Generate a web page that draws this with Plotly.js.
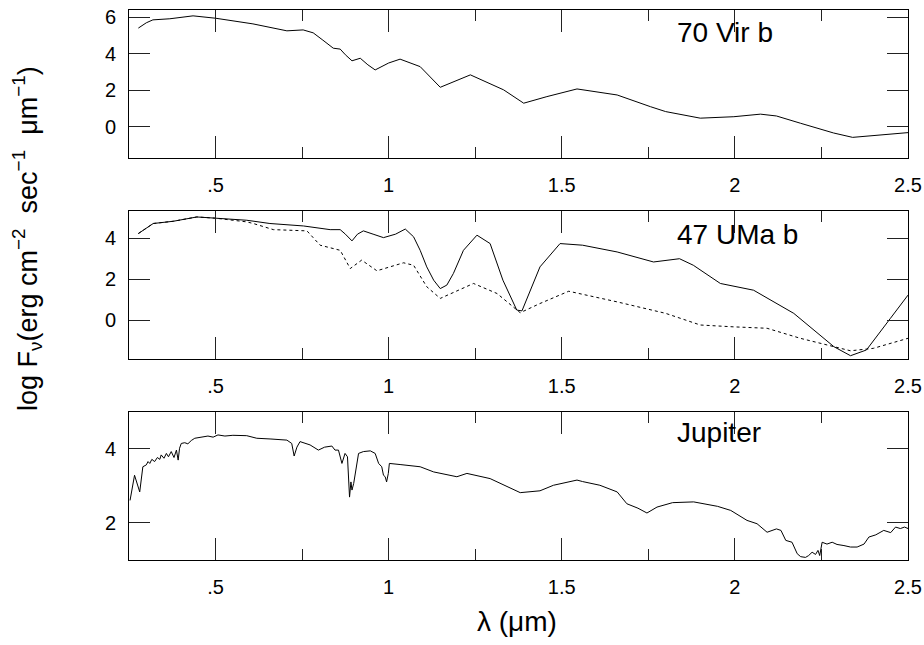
<!DOCTYPE html>
<html>
<head>
<meta charset="utf-8">
<script src="https://cdn.plot.ly/plotly-3.0.1.min.js"></script>
<style>html,body{margin:0;padding:0;background:#fff;}</style>
</head>
<body>
<div id="chart" style="width:924px;height:645px;"></div>
<script>
// ---- data (wavelength in micron, log flux) ----
const virLam = [0.277,0.30,0.319,0.368,0.435,0.5,0.608,0.706,0.753,0.782,0.81,0.84,0.86,0.875,0.894,0.918,0.94,0.961,1.0,1.033,1.091,1.149,1.236,1.332,1.39,1.457,1.544,1.66,1.756,1.80,1.90,1.997,2.074,2.12,2.19,2.285,2.34,2.43,2.5];
const virFlux = [5.41,5.7,5.86,5.92,6.08,5.95,5.64,5.26,5.31,5.15,4.75,4.31,4.26,3.95,3.62,3.76,3.4,3.12,3.5,3.71,3.3,2.17,2.85,2.03,1.30,1.66,2.08,1.75,1.11,0.84,0.48,0.56,0.70,0.60,0.2,-0.33,-0.57,-0.44,-0.31];

const umaLam = [0.277,0.32,0.378,0.446,0.5,0.59,0.657,0.754,0.831,0.86,0.875,0.894,0.91,0.927,0.955,0.985,1.02,1.048,1.072,1.091,1.11,1.13,1.149,1.168,1.187,1.216,1.255,1.293,1.33,1.37,1.385,1.437,1.495,1.56,1.66,1.765,1.84,1.88,1.958,2.054,2.17,2.286,2.334,2.38,2.449,2.5];
const umaFlux = [4.23,4.72,4.83,5.04,4.98,4.88,4.72,4.60,4.42,4.42,4.2,3.87,4.2,4.36,4.2,4.03,4.2,4.45,4.07,3.41,2.6,1.95,1.54,1.71,2.28,3.41,4.15,3.74,1.95,0.49,0.45,2.6,3.74,3.66,3.33,2.84,3.0,2.68,1.79,1.46,0.33,-1.30,-1.74,-1.46,0.08,1.22];

const umaDotLam = [0.277,0.32,0.378,0.446,0.5,0.59,0.609,0.667,0.764,0.802,0.86,0.889,0.922,0.966,1.043,1.072,1.11,1.149,1.245,1.313,1.38,1.437,1.52,1.66,1.80,1.90,1.996,2.093,2.189,2.285,2.334,2.40,2.5];
const umaDotFlux = [4.23,4.72,4.83,5.04,4.98,4.80,4.72,4.42,4.36,3.66,3.41,2.52,2.93,2.41,2.80,2.68,1.63,1.06,1.79,1.30,0.36,0.81,1.41,0.89,0.33,-0.24,-0.33,-0.40,-0.89,-1.30,-1.50,-1.38,-0.89];

const jupLam = [0.253,0.266,0.281,0.29,0.30,0.305,0.31,0.316,0.324,0.332,0.339,0.343,0.351,0.358,0.364,0.372,0.38,0.387,0.392,0.396,0.401,0.411,0.42,0.43,0.44,0.459,0.478,0.493,0.507,0.527,0.55,0.59,0.619,0.66,0.706,0.72,0.727,0.735,0.744,0.773,0.797,0.815,0.836,0.845,0.855,0.865,0.874,0.881,0.887,0.891,0.894,0.899,0.907,0.913,0.927,0.947,0.961,0.971,0.98,0.985,0.99,0.994,0.999,1.002,1.033,1.091,1.13,1.197,1.226,1.293,1.38,1.437,1.476,1.544,1.56,1.61,1.66,1.688,1.72,1.746,1.775,1.82,1.881,1.95,1.988,2.035,2.064,2.093,2.12,2.133,2.147,2.165,2.18,2.19,2.204,2.213,2.223,2.233,2.24,2.245,2.252,2.266,2.281,2.295,2.315,2.334,2.353,2.373,2.387,2.407,2.43,2.45,2.464,2.478,2.49,2.5];
const jupFlux = [2.61,3.29,2.84,3.52,3.57,3.66,3.61,3.72,3.66,3.77,3.72,3.84,3.75,3.88,3.79,3.93,3.77,3.97,3.70,4.02,4.15,4.17,4.14,4.23,4.29,4.33,4.35,4.32,4.38,4.35,4.37,4.36,4.29,4.27,4.24,4.15,3.81,4.05,4.2,4.11,3.97,4.05,4.08,3.97,3.97,3.61,3.88,3.79,2.70,3.11,2.89,3.07,3.61,3.88,3.93,3.95,3.88,3.61,3.52,3.29,3.25,3.11,3.34,3.61,3.58,3.52,3.38,3.25,3.34,3.20,2.82,2.87,3.02,3.16,3.12,3.02,2.84,2.52,2.40,2.27,2.43,2.55,2.57,2.45,2.34,2.07,1.98,1.75,1.84,1.80,1.53,1.48,1.17,1.09,1.07,1.12,1.21,1.15,1.26,1.12,1.48,1.43,1.48,1.42,1.39,1.35,1.35,1.43,1.62,1.68,1.80,1.74,1.89,1.85,1.89,1.85];

const xTickVals = [0.5,1,1.5,2,2.5];
const xTickText = ['.5','1','1.5','2','2.5'];
const xMinorVals = [0.75,1.25,1.75,2.25];
const yTickVals = [[0,2,4,6],[0,2,4],[2,4]];
const panelNames = ['70 Vir b','47 UMa b','Jupiter'];

// ---- styling / layout constants ----
const FONT = 'Liberation Sans, Arial, sans-serif';
const TICKC = '#222';
const X_RANGE = [0.25, 2.5];
const Y_RANGES = [[-1.7,6.4],[-1.9,5.33],[1.0,5.0]];
const Y_DOMAINS = [[0.7309,1],[0.3655,0.6345],[0,0.2691]];
const lineStyle = {color:'#000', width:1};

const traces = [
  {x:virLam, y:virFlux, xaxis:'x', yaxis:'y', mode:'lines', line:lineStyle},
  {x:umaLam, y:umaFlux, xaxis:'x2', yaxis:'y2', mode:'lines', line:lineStyle},
  {x:umaDotLam, y:umaDotFlux, xaxis:'x2', yaxis:'y2', mode:'lines', line:{color:'#000', width:1, dash:'dot'}},
  {x:jupLam, y:jupFlux, xaxis:'x3', yaxis:'y3', mode:'lines', line:lineStyle}
];

function xAxis(anchor){
  return {
    anchor: anchor, range:X_RANGE, showgrid:false, zeroline:false,
    showline:true, linecolor:'#000', linewidth:1, mirror:'allticks',
    ticks:'inside', ticklen:22, tickwidth:1, tickcolor:TICKC,
    tickmode:'array', tickvals:xTickVals, ticktext:xTickText,
    minor:{tickmode:'array', tickvals:xMinorVals, ticks:'inside', ticklen:11, tickwidth:1, tickcolor:TICKC, showgrid:false},
    tickfont:{family:FONT, size:20, color:'#000'}, ticklabelstandoff:9
  };
}
function yAxis(anchor, p){
  return {
    anchor: anchor, domain: Y_DOMAINS[p], range: Y_RANGES[p], showgrid:false, zeroline:false,
    showline:true, linecolor:'#000', linewidth:1, mirror:'allticks',
    ticks:'inside', ticklen:21, tickwidth:1, tickcolor:TICKC,
    tickmode:'array', tickvals:yTickVals[p],
    tickfont:{family:FONT, size:20, color:'#000'}, ticklabelstandoff:8
  };
}

const layout = {
  width:924, height:645,
  margin:{l:129, r:16, t:10, b:85},
  showlegend:false,
  xaxis: xAxis('y'),
  xaxis2: xAxis('y2'),
  xaxis3: xAxis('y3'),
  yaxis: yAxis('x', 0),
  yaxis2: yAxis('x2', 1),
  yaxis3: yAxis('x3', 2),
  annotations:[
    {text:panelNames[0], xref:'paper', yref:'paper', x:0.701, y:0.9585, xanchor:'left', yanchor:'middle', showarrow:false, font:{family:FONT, size:28, color:'#000'}},
    {text:panelNames[1], xref:'paper', yref:'paper', x:0.701, y:0.5927, xanchor:'left', yanchor:'middle', showarrow:false, font:{family:FONT, size:28, color:'#000'}},
    {text:panelNames[2], xref:'paper', yref:'paper', x:0.701, y:0.231, xanchor:'left', yanchor:'middle', showarrow:false, font:{family:FONT, size:28, color:'#000'}},
    {text:'log F<sub>ν</sub>(erg cm<sup>−2</sup>  sec<sup>−1</sup>  μm<sup>−1</sup>)', xref:'paper', yref:'paper', x:-0.13, y:0.585, xanchor:'center', yanchor:'middle', textangle:-90, showarrow:false, font:{family:FONT, size:27, color:'#000'}},
    {text:'λ (μm)', xref:'paper', yref:'paper', x:0.498, y:-0.112, xanchor:'center', yanchor:'middle', showarrow:false, font:{family:FONT, size:28, color:'#000'}}
  ]
};

Plotly.newPlot('chart', traces, layout, {displayModeBar:false});
</script>
</body>
</html>
